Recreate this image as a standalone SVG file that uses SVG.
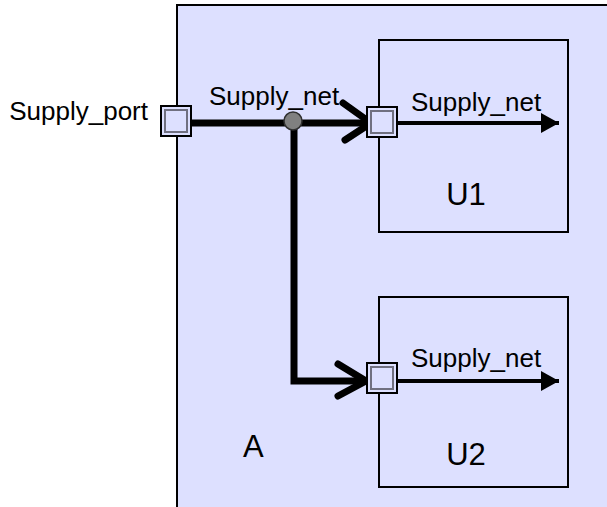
<svg xmlns="http://www.w3.org/2000/svg" width="607" height="507" viewBox="0 0 607 507">
  <style>
    .box { fill: #dde0ff; stroke: #000; stroke-width: 2; }
    .port-outer { fill: #dde0ff; stroke: #000; stroke-width: 2; }
    .port-inner { fill: #dde0ff; stroke: #707080; stroke-width: 2; }
    .net { fill: none; stroke: #000; stroke-width: 7; stroke-linejoin: miter; }
    .chev { fill: none; stroke: #000; stroke-width: 7; stroke-linecap: round; stroke-linejoin: round; }
    .out { stroke: #000; stroke-width: 4; }
    .lbl { font-family: "Liberation Sans", Arial, sans-serif; font-size: 26px; fill: #000; }
    .name { font-family: "Liberation Sans", Arial, sans-serif; font-size: 31px; fill: #000; }
  </style>
  <defs>
    <marker id="tri" markerUnits="userSpaceOnUse" markerWidth="22" markerHeight="22" viewBox="0 0 22 22" refX="20" refY="11" orient="auto">
      <path d="M2,1 L20,11 L2,21 Z" fill="#000"/>
    </marker>
  </defs>

  <!-- module A -->
  <g id="A">
    <rect class="box" x="177" y="5" width="460" height="540"/>
    <text class="name" x="243" y="457">A</text>
  </g>

  <!-- instance U1 -->
  <g id="U1">
    <rect class="box" x="379" y="40" width="189" height="192"/>
    <text class="name" x="466" y="205" text-anchor="middle">U1</text>
    <line class="out" x1="396" y1="123" x2="559" y2="123" marker-end="url(#tri)"/>
    <text class="lbl" x="411" y="111">Supply_net</text>
  </g>

  <!-- instance U2 -->
  <g id="U2">
    <rect class="box" x="379" y="297" width="189" height="190"/>
    <text class="name" x="466" y="465" text-anchor="middle">U2</text>
    <line class="out" x1="396" y1="381" x2="559" y2="381" marker-end="url(#tri)"/>
    <text class="lbl" x="411" y="367">Supply_net</text>
  </g>

  <!-- connectors -->
  <g id="connectors">
    <polyline class="net" points="184,123 370,123"/>
    <polyline class="chev" points="343,103 371,123 345,140"/>
    <polyline class="net" points="294,121 294,381 366,381"/>
    <polyline class="chev" points="338,364 366,381 338,396"/>
    <text class="lbl" x="209" y="105">Supply_net</text>
  </g>

  <!-- junction dot -->
  <g id="junction">
    <circle cx="293" cy="121" r="9" fill="#808080" stroke="#303030" stroke-width="1.5"/>
  </g>

  <!-- ports -->
  <g id="Supply_port">
    <rect class="port-outer" x="161" y="106" width="30" height="30"/>
    <rect class="port-inner" x="165" y="110" width="22" height="22"/>
    <text class="lbl" x="148" y="120" text-anchor="end">Supply_port</text>
  </g>
  <g id="U1_port">
    <rect class="port-outer" x="367" y="107" width="30" height="30"/>
    <rect class="port-inner" x="371" y="111" width="22" height="22"/>
  </g>
  <g id="U2_port">
    <rect class="port-outer" x="367" y="363" width="30" height="30"/>
    <rect class="port-inner" x="371" y="367" width="22" height="22"/>
  </g>
</svg>
